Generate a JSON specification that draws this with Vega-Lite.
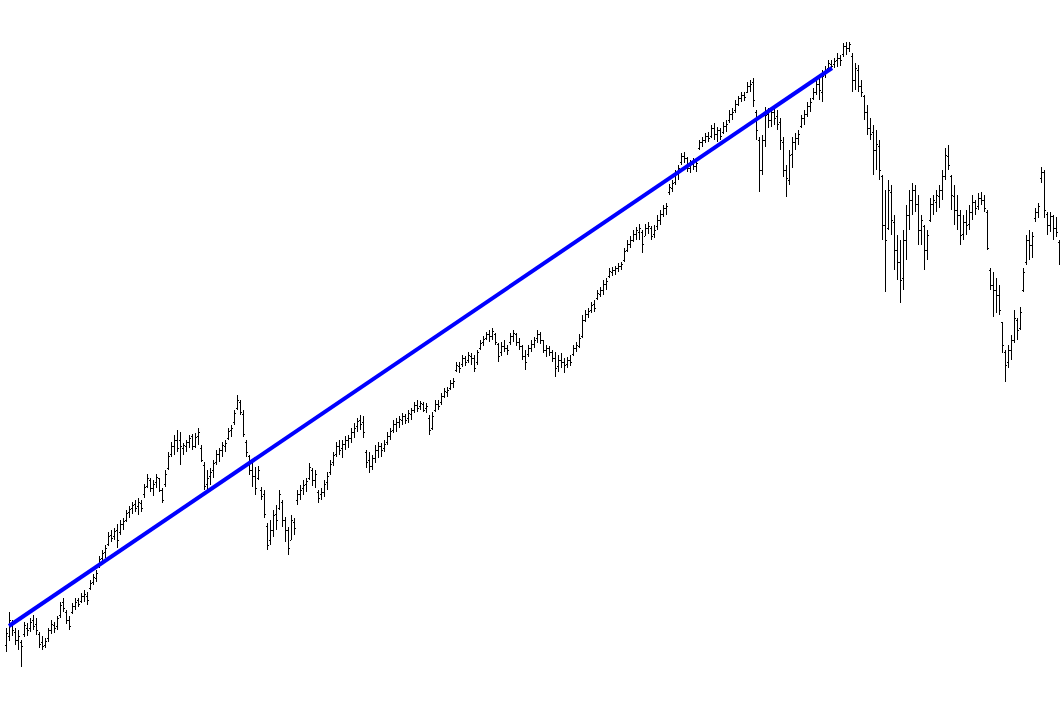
{
"$schema":"https://vega.github.io/schema/vega-lite/v6.json",
"width":1060,"height":702,"padding":0,
"autosize":{"type":"fit","contains":"padding"},
"background":"white",
"config":{"view":{"stroke":null}},
"datasets":{
"trend":[{"t":0.833,"v":374},{"t":275.17,"v":932}],
"bars":[
{"t":0,"h":372,"l":348,"o":355,"c":367},
{"t":1,"h":388,"l":359,"o":364,"c":380},
{"t":2,"h":380,"l":364,"o":376,"c":370},
{"t":3,"h":372,"l":355,"o":368,"c":360},
{"t":4,"h":370,"l":350,"o":360,"c":364},
{"t":5,"h":360,"l":333,"o":358,"c":354},
{"t":6,"h":378,"l":363,"o":366,"c":375},
{"t":7,"h":377,"l":364,"o":372,"c":370},
{"t":8,"h":382,"l":368,"o":372,"c":378},
{"t":9,"h":385,"l":370,"o":380,"c":374},
{"t":10,"h":382,"l":365,"o":376,"c":370},
{"t":11,"h":368,"l":352,"o":366,"c":356},
{"t":12,"h":364,"l":350,"o":358,"c":354},
{"t":13,"h":362,"l":352,"o":355,"c":359},
{"t":14,"h":372,"l":358,"o":362,"c":370},
{"t":15,"h":380,"l":366,"o":370,"c":376},
{"t":16,"h":378,"l":367,"o":375,"c":372},
{"t":17,"h":384,"l":370,"o":374,"c":382},
{"t":18,"h":398,"l":382,"o":385,"c":395},
{"t":19,"h":402,"l":388,"o":398,"c":392},
{"t":20,"h":390,"l":376,"o":388,"c":380},
{"t":21,"h":384,"l":370,"o":380,"c":374},
{"t":22,"h":397,"l":386,"o":388,"c":394},
{"t":23,"h":402,"l":390,"o":394,"c":398},
{"t":24,"h":402,"l":393,"o":400,"c":396},
{"t":25,"h":407,"l":397,"o":399,"c":404},
{"t":26,"h":410,"l":398,"o":404,"c":406},
{"t":27,"h":408,"l":395,"o":404,"c":400},
{"t":28,"h":420,"l":410,"o":412,"c":417},
{"t":29,"h":426,"l":415,"o":418,"c":423},
{"t":30,"h":430,"l":418,"o":422,"c":427},
{"t":31,"h":444,"l":432,"o":434,"c":441},
{"t":32,"h":450,"l":438,"o":442,"c":447},
{"t":33,"h":455,"l":442,"o":448,"c":452},
{"t":34,"h":468,"l":454,"o":456,"c":464},
{"t":35,"h":470,"l":458,"o":465,"c":462},
{"t":36,"h":472,"l":460,"o":464,"c":469},
{"t":37,"h":476,"l":452,"o":470,"c":460},
{"t":38,"h":480,"l":465,"o":468,"c":476},
{"t":39,"h":482,"l":470,"o":476,"c":479},
{"t":40,"h":490,"l":478,"o":480,"c":487},
{"t":41,"h":494,"l":482,"o":488,"c":491},
{"t":42,"h":498,"l":486,"o":492,"c":495},
{"t":43,"h":500,"l":488,"o":496,"c":492},
{"t":44,"h":502,"l":485,"o":494,"c":498},
{"t":45,"h":500,"l":488,"o":497,"c":492},
{"t":46,"h":516,"l":502,"o":506,"c":513},
{"t":47,"h":526,"l":512,"o":514,"c":522},
{"t":48,"h":522,"l":508,"o":520,"c":512},
{"t":49,"h":520,"l":504,"o":512,"c":516},
{"t":50,"h":526,"l":512,"o":518,"c":523},
{"t":51,"h":522,"l":508,"o":522,"c":510},
{"t":52,"h":512,"l":497,"o":510,"c":500},
{"t":53,"h":530,"l":513,"o":516,"c":526},
{"t":54,"h":548,"l":530,"o":532,"c":544},
{"t":55,"h":558,"l":543,"o":546,"c":554},
{"t":56,"h":565,"l":545,"o":554,"c":560},
{"t":57,"h":570,"l":548,"o":560,"c":552},
{"t":58,"h":568,"l":535,"o":560,"c":554},
{"t":59,"h":557,"l":545,"o":552,"c":555},
{"t":60,"h":560,"l":548,"o":554,"c":558},
{"t":61,"h":565,"l":552,"o":558,"c":562},
{"t":62,"h":566,"l":550,"o":564,"c":554},
{"t":63,"h":567,"l":552,"o":554,"c":563},
{"t":64,"h":572,"l":555,"o":564,"c":568},
{"t":65,"h":555,"l":538,"o":552,"c":540},
{"t":66,"h":538,"l":510,"o":535,"c":514},
{"t":67,"h":530,"l":510,"o":516,"c":522},
{"t":68,"h":532,"l":515,"o":524,"c":528},
{"t":69,"h":540,"l":522,"o":530,"c":537},
{"t":70,"h":550,"l":535,"o":538,"c":546},
{"t":71,"h":552,"l":538,"o":546,"c":550},
{"t":72,"h":558,"l":543,"o":550,"c":555},
{"t":73,"h":560,"l":548,"o":554,"c":557},
{"t":74,"h":572,"l":560,"o":562,"c":569},
{"t":75,"h":575,"l":563,"o":570,"c":572},
{"t":76,"h":590,"l":575,"o":578,"c":587},
{"t":77,"h":605,"l":590,"o":592,"c":600},
{"t":78,"h":600,"l":585,"o":598,"c":588},
{"t":79,"h":590,"l":563,"o":586,"c":566},
{"t":80,"h":560,"l":543,"o":558,"c":548},
{"t":81,"h":545,"l":525,"o":544,"c":530},
{"t":82,"h":540,"l":513,"o":530,"c":524},
{"t":83,"h":533,"l":505,"o":524,"c":512},
{"t":84,"h":534,"l":520,"o":522,"c":530},
{"t":85,"h":513,"l":500,"o":510,"c":504},
{"t":86,"h":510,"l":482,"o":506,"c":486},
{"t":87,"h":477,"l":450,"o":474,"c":455},
{"t":88,"h":480,"l":455,"o":460,"c":470},
{"t":89,"h":490,"l":463,"o":470,"c":485},
{"t":90,"h":495,"l":470,"o":486,"c":480},
{"t":91,"h":510,"l":490,"o":492,"c":506},
{"t":92,"h":500,"l":473,"o":498,"c":480},
{"t":93,"h":483,"l":458,"o":480,"c":470},
{"t":94,"h":473,"l":445,"o":470,"c":452},
{"t":95,"h":485,"l":460,"o":460,"c":480},
{"t":96,"h":482,"l":465,"o":478,"c":472},
{"t":97,"h":510,"l":495,"o":500,"c":506},
{"t":98,"h":515,"l":500,"o":506,"c":510},
{"t":99,"h":520,"l":505,"o":512,"c":515},
{"t":100,"h":522,"l":508,"o":516,"c":519},
{"t":101,"h":537,"l":520,"o":522,"c":533},
{"t":102,"h":532,"l":514,"o":530,"c":520},
{"t":103,"h":530,"l":512,"o":520,"c":526},
{"t":104,"h":510,"l":497,"o":508,"c":502},
{"t":105,"h":512,"l":500,"o":506,"c":508},
{"t":106,"h":520,"l":503,"o":508,"c":516},
{"t":107,"h":528,"l":510,"o":518,"c":524},
{"t":108,"h":540,"l":525,"o":528,"c":536},
{"t":109,"h":548,"l":534,"o":538,"c":545},
{"t":110,"h":558,"l":543,"o":546,"c":554},
{"t":111,"h":560,"l":545,"o":554,"c":550},
{"t":112,"h":560,"l":542,"o":552,"c":556},
{"t":113,"h":564,"l":550,"o":556,"c":560},
{"t":114,"h":565,"l":552,"o":560,"c":562},
{"t":115,"h":572,"l":557,"o":562,"c":568},
{"t":116,"h":577,"l":562,"o":568,"c":572},
{"t":117,"h":582,"l":568,"o":574,"c":579},
{"t":118,"h":585,"l":570,"o":580,"c":576},
{"t":119,"h":584,"l":562,"o":578,"c":568},
{"t":120,"h":550,"l":532,"o":548,"c":538},
{"t":121,"h":548,"l":527,"o":540,"c":534},
{"t":122,"h":545,"l":530,"o":534,"c":542},
{"t":123,"h":555,"l":537,"o":542,"c":550},
{"t":124,"h":558,"l":542,"o":550,"c":554},
{"t":125,"h":557,"l":543,"o":554,"c":550},
{"t":126,"h":560,"l":548,"o":552,"c":556},
{"t":127,"h":568,"l":555,"o":558,"c":564},
{"t":128,"h":572,"l":560,"o":564,"c":569},
{"t":129,"h":580,"l":567,"o":570,"c":576},
{"t":130,"h":582,"l":568,"o":576,"c":578},
{"t":131,"h":584,"l":572,"o":578,"c":581},
{"t":132,"h":587,"l":575,"o":580,"c":584},
{"t":133,"h":586,"l":576,"o":584,"c":580},
{"t":134,"h":590,"l":577,"o":582,"c":587},
{"t":135,"h":592,"l":580,"o":586,"c":590},
{"t":136,"h":598,"l":587,"o":590,"c":595},
{"t":137,"h":600,"l":588,"o":595,"c":592},
{"t":138,"h":599,"l":590,"o":594,"c":597},
{"t":139,"h":598,"l":588,"o":596,"c":590},
{"t":140,"h":597,"l":587,"o":592,"c":594},
{"t":141,"h":585,"l":565,"o":582,"c":570},
{"t":142,"h":588,"l":570,"o":572,"c":584},
{"t":143,"h":600,"l":588,"o":590,"c":596},
{"t":144,"h":600,"l":590,"o":596,"c":594},
{"t":145,"h":607,"l":595,"o":598,"c":604},
{"t":146,"h":612,"l":602,"o":604,"c":609},
{"t":147,"h":613,"l":603,"o":608,"c":610},
{"t":148,"h":620,"l":610,"o":612,"c":617},
{"t":149,"h":622,"l":612,"o":617,"c":619},
{"t":150,"h":638,"l":628,"o":630,"c":635},
{"t":151,"h":638,"l":627,"o":634,"c":632},
{"t":152,"h":645,"l":633,"o":636,"c":642},
{"t":153,"h":644,"l":634,"o":642,"c":638},
{"t":154,"h":648,"l":637,"o":640,"c":645},
{"t":155,"h":647,"l":635,"o":644,"c":642},
{"t":156,"h":645,"l":628,"o":642,"c":632},
{"t":157,"h":650,"l":635,"o":638,"c":648},
{"t":158,"h":660,"l":650,"o":652,"c":657},
{"t":159,"h":664,"l":654,"o":658,"c":661},
{"t":160,"h":668,"l":660,"o":662,"c":666},
{"t":161,"h":670,"l":658,"o":666,"c":664},
{"t":162,"h":672,"l":660,"o":664,"c":669},
{"t":163,"h":667,"l":655,"o":666,"c":658},
{"t":164,"h":657,"l":638,"o":656,"c":644},
{"t":165,"h":658,"l":644,"o":648,"c":654},
{"t":166,"h":660,"l":648,"o":654,"c":652},
{"t":167,"h":655,"l":645,"o":652,"c":650},
{"t":168,"h":667,"l":655,"o":658,"c":664},
{"t":169,"h":670,"l":658,"o":664,"c":667},
{"t":170,"h":667,"l":654,"o":666,"c":658},
{"t":171,"h":662,"l":650,"o":658,"c":654},
{"t":172,"h":655,"l":640,"o":654,"c":644},
{"t":173,"h":650,"l":630,"o":644,"c":638},
{"t":174,"h":655,"l":643,"o":646,"c":652},
{"t":175,"h":660,"l":648,"o":652,"c":656},
{"t":176,"h":663,"l":652,"o":656,"c":660},
{"t":177,"h":670,"l":657,"o":662,"c":666},
{"t":178,"h":668,"l":656,"o":666,"c":660},
{"t":179,"h":660,"l":647,"o":660,"c":650},
{"t":180,"h":655,"l":643,"o":650,"c":652},
{"t":181,"h":654,"l":644,"o":652,"c":648},
{"t":182,"h":650,"l":638,"o":648,"c":642},
{"t":183,"h":648,"l":623,"o":642,"c":632},
{"t":184,"h":645,"l":628,"o":634,"c":640},
{"t":185,"h":647,"l":632,"o":640,"c":638},
{"t":186,"h":642,"l":627,"o":638,"c":635},
{"t":187,"h":643,"l":632,"o":636,"c":640},
{"t":188,"h":645,"l":634,"o":640,"c":638},
{"t":189,"h":655,"l":644,"o":646,"c":652},
{"t":190,"h":658,"l":648,"o":652,"c":655},
{"t":191,"h":666,"l":652,"o":654,"c":662},
{"t":192,"h":685,"l":662,"o":664,"c":680},
{"t":193,"h":690,"l":678,"o":680,"c":686},
{"t":194,"h":692,"l":682,"o":686,"c":689},
{"t":195,"h":698,"l":687,"o":690,"c":695},
{"t":196,"h":700,"l":688,"o":696,"c":692},
{"t":197,"h":710,"l":700,"o":702,"c":707},
{"t":198,"h":713,"l":703,"o":706,"c":710},
{"t":199,"h":720,"l":705,"o":710,"c":716},
{"t":200,"h":722,"l":710,"o":716,"c":719},
{"t":201,"h":732,"l":722,"o":724,"c":729},
{"t":202,"h":733,"l":724,"o":728,"c":730},
{"t":203,"h":734,"l":725,"o":730,"c":732},
{"t":204,"h":737,"l":728,"o":732,"c":734},
{"t":205,"h":738,"l":730,"o":734,"c":736},
{"t":206,"h":752,"l":738,"o":740,"c":749},
{"t":207,"h":760,"l":748,"o":750,"c":756},
{"t":208,"h":764,"l":752,"o":756,"c":760},
{"t":209,"h":770,"l":758,"o":760,"c":766},
{"t":210,"h":773,"l":760,"o":766,"c":770},
{"t":211,"h":776,"l":760,"o":768,"c":772},
{"t":212,"h":770,"l":747,"o":768,"c":756},
{"t":213,"h":776,"l":764,"o":764,"c":772},
{"t":214,"h":778,"l":766,"o":772,"c":774},
{"t":215,"h":774,"l":760,"o":772,"c":764},
{"t":216,"h":775,"l":762,"o":766,"c":770},
{"t":217,"h":785,"l":770,"o":774,"c":780},
{"t":218,"h":790,"l":775,"o":780,"c":786},
{"t":219,"h":795,"l":783,"o":786,"c":792},
{"t":220,"h":797,"l":785,"o":792,"c":794},
{"t":221,"h":816,"l":805,"o":808,"c":813},
{"t":222,"h":820,"l":808,"o":812,"c":817},
{"t":223,"h":830,"l":815,"o":818,"c":826},
{"t":224,"h":835,"l":820,"o":826,"c":832},
{"t":225,"h":847,"l":835,"o":838,"c":844},
{"t":226,"h":848,"l":837,"o":844,"c":842},
{"t":227,"h":843,"l":828,"o":842,"c":832},
{"t":228,"h":840,"l":827,"o":832,"c":838},
{"t":229,"h":842,"l":830,"o":836,"c":834},
{"t":230,"h":840,"l":828,"o":834,"c":837},
{"t":231,"h":860,"l":850,"o":852,"c":858},
{"t":232,"h":863,"l":853,"o":858,"c":860},
{"t":233,"h":867,"l":857,"o":860,"c":864},
{"t":234,"h":868,"l":858,"o":864,"c":862},
{"t":235,"h":875,"l":862,"o":864,"c":872},
{"t":236,"h":877,"l":860,"o":872,"c":866},
{"t":237,"h":873,"l":858,"o":866,"c":870},
{"t":238,"h":872,"l":860,"o":870,"c":864},
{"t":239,"h":878,"l":866,"o":868,"c":874},
{"t":240,"h":880,"l":868,"o":874,"c":876},
{"t":241,"h":890,"l":877,"o":880,"c":886},
{"t":242,"h":892,"l":880,"o":886,"c":888},
{"t":243,"h":900,"l":887,"o":890,"c":896},
{"t":244,"h":904,"l":894,"o":896,"c":902},
{"t":245,"h":908,"l":898,"o":902,"c":905},
{"t":246,"h":908,"l":899,"o":905,"c":903},
{"t":247,"h":918,"l":907,"o":908,"c":914},
{"t":248,"h":920,"l":908,"o":914,"c":916},
{"t":249,"h":922,"l":893,"o":918,"c":900},
{"t":250,"h":890,"l":860,"o":888,"c":870},
{"t":251,"h":863,"l":808,"o":860,"c":830},
{"t":252,"h":865,"l":825,"o":830,"c":860},
{"t":253,"h":893,"l":853,"o":860,"c":885},
{"t":254,"h":892,"l":872,"o":886,"c":880},
{"t":255,"h":893,"l":873,"o":880,"c":888},
{"t":256,"h":893,"l":875,"o":888,"c":882},
{"t":257,"h":890,"l":870,"o":884,"c":876},
{"t":258,"h":882,"l":850,"o":878,"c":860},
{"t":259,"h":863,"l":823,"o":858,"c":830},
{"t":260,"h":835,"l":803,"o":830,"c":822},
{"t":261,"h":850,"l":815,"o":820,"c":845},
{"t":262,"h":863,"l":832,"o":846,"c":858},
{"t":263,"h":867,"l":850,"o":858,"c":862},
{"t":264,"h":870,"l":855,"o":862,"c":866},
{"t":265,"h":885,"l":872,"o":874,"c":882},
{"t":266,"h":890,"l":875,"o":882,"c":886},
{"t":267,"h":898,"l":883,"o":886,"c":894},
{"t":268,"h":902,"l":888,"o":894,"c":898},
{"t":269,"h":912,"l":900,"o":902,"c":908},
{"t":270,"h":920,"l":905,"o":908,"c":916},
{"t":271,"h":925,"l":900,"o":916,"c":910},
{"t":272,"h":930,"l":898,"o":908,"c":924},
{"t":273,"h":934,"l":922,"o":926,"c":930},
{"t":274,"h":940,"l":930,"o":932,"c":937},
{"t":275,"h":940,"l":930,"o":936,"c":934},
{"t":276,"h":942,"l":932,"o":936,"c":939},
{"t":277,"h":947,"l":933,"o":940,"c":942},
{"t":278,"h":945,"l":934,"o":942,"c":940},
{"t":279,"h":957,"l":943,"o":946,"c":954},
{"t":280,"h":958,"l":945,"o":954,"c":952},
{"t":281,"h":958,"l":948,"o":952,"c":956},
{"t":282,"h":947,"l":908,"o":944,"c":920},
{"t":283,"h":937,"l":910,"o":920,"c":932},
{"t":284,"h":935,"l":908,"o":930,"c":914},
{"t":285,"h":920,"l":903,"o":914,"c":908},
{"t":286,"h":905,"l":880,"o":904,"c":888},
{"t":287,"h":895,"l":865,"o":888,"c":872},
{"t":288,"h":882,"l":860,"o":872,"c":866},
{"t":289,"h":875,"l":825,"o":868,"c":850},
{"t":290,"h":870,"l":830,"o":850,"c":856},
{"t":291,"h":860,"l":820,"o":854,"c":830},
{"t":292,"h":825,"l":760,"o":824,"c":775},
{"t":293,"h":810,"l":708,"o":775,"c":760},
{"t":294,"h":820,"l":770,"o":772,"c":810},
{"t":295,"h":815,"l":765,"o":808,"c":780},
{"t":296,"h":785,"l":730,"o":778,"c":750},
{"t":297,"h":765,"l":720,"o":750,"c":738},
{"t":298,"h":760,"l":697,"o":738,"c":720},
{"t":299,"h":770,"l":710,"o":722,"c":760},
{"t":300,"h":795,"l":740,"o":760,"c":785},
{"t":301,"h":810,"l":770,"o":785,"c":800},
{"t":302,"h":817,"l":785,"o":800,"c":810},
{"t":303,"h":815,"l":788,"o":810,"c":796},
{"t":304,"h":805,"l":755,"o":796,"c":770},
{"t":305,"h":785,"l":755,"o":770,"c":780},
{"t":306,"h":775,"l":730,"o":774,"c":750},
{"t":307,"h":770,"l":740,"o":750,"c":765},
{"t":308,"h":802,"l":778,"o":780,"c":796},
{"t":309,"h":805,"l":785,"o":796,"c":800},
{"t":310,"h":810,"l":788,"o":798,"c":805},
{"t":311,"h":815,"l":792,"o":804,"c":810},
{"t":312,"h":830,"l":800,"o":810,"c":824},
{"t":313,"h":852,"l":820,"o":824,"c":845},
{"t":314,"h":855,"l":830,"o":844,"c":835},
{"t":315,"h":825,"l":790,"o":824,"c":805},
{"t":316,"h":815,"l":775,"o":804,"c":790},
{"t":317,"h":805,"l":770,"o":790,"c":785},
{"t":318,"h":790,"l":755,"o":785,"c":765},
{"t":319,"h":785,"l":760,"o":766,"c":778},
{"t":320,"h":790,"l":765,"o":778,"c":775},
{"t":321,"h":795,"l":770,"o":776,"c":788},
{"t":322,"h":805,"l":780,"o":788,"c":798},
{"t":323,"h":800,"l":785,"o":798,"c":792},
{"t":324,"h":807,"l":790,"o":794,"c":802},
{"t":325,"h":808,"l":795,"o":802,"c":800},
{"t":326,"h":805,"l":788,"o":800,"c":792},
{"t":327,"h":790,"l":750,"o":788,"c":752},
{"t":328,"h":732,"l":710,"o":730,"c":715},
{"t":329,"h":728,"l":683,"o":715,"c":710},
{"t":330,"h":722,"l":687,"o":710,"c":705},
{"t":331,"h":715,"l":685,"o":705,"c":690},
{"t":332,"h":678,"l":647,"o":678,"c":655},
{"t":333,"h":650,"l":618,"o":648,"c":635},
{"t":334,"h":655,"l":632,"o":638,"c":650},
{"t":335,"h":665,"l":640,"o":650,"c":660},
{"t":336,"h":690,"l":657,"o":660,"c":682},
{"t":337,"h":682,"l":660,"o":680,"c":670},
{"t":338,"h":693,"l":670,"o":672,"c":688},
{"t":339,"h":732,"l":708,"o":710,"c":728},
{"t":340,"h":765,"l":735,"o":738,"c":760},
{"t":341,"h":770,"l":740,"o":760,"c":755},
{"t":342,"h":768,"l":742,"o":755,"c":764},
{"t":343,"h":792,"l":778,"o":782,"c":788},
{"t":344,"h":797,"l":782,"o":788,"c":794},
{"t":345,"h":833,"l":817,"o":822,"c":828},
{"t":346,"h":830,"l":782,"o":828,"c":790},
{"t":347,"h":788,"l":765,"o":786,"c":775},
{"t":348,"h":788,"l":768,"o":775,"c":784},
{"t":349,"h":785,"l":760,"o":784,"c":772},
{"t":350,"h":783,"l":763,"o":772,"c":768},
{"t":351,"h":760,"l":735,"o":758,"c":745},
{"t":352,"h":760,"l":738,"o":746,"c":752}
]},
"layer":[
{"data":{"name":"bars"},
 "mark":{"type":"rule","color":"black","strokeWidth":1},
 "encoding":{
  "x":{"field":"t","type":"quantitative","scale":{"domain":[0,352],"range":[2.5,1058.5],"nice":false,"zero":false},"axis":null},
  "y":{"field":"l","type":"quantitative","scale":{"domain":[298,1000],"nice":false,"zero":false},"axis":null},
  "y2":{"field":"h"}}},
{"data":{"name":"bars"},
 "mark":{"type":"tick","orient":"horizontal","size":1,"thickness":1,"xOffset":-1,"yOffset":0.5,"color":"black","opacity":1},
 "encoding":{
  "x":{"field":"t","type":"quantitative"},
  "y":{"field":"o","type":"quantitative"}}},
{"data":{"name":"bars"},
 "mark":{"type":"tick","orient":"horizontal","size":1,"thickness":1,"xOffset":1,"yOffset":0.5,"color":"black","opacity":1},
 "encoding":{
  "x":{"field":"t","type":"quantitative"},
  "y":{"field":"c","type":"quantitative"}}},
{"data":{"name":"trend"},
 "mark":{"type":"line","color":"#0000ff","strokeWidth":4},
 "encoding":{
  "x":{"field":"t","type":"quantitative"},
  "y":{"field":"v","type":"quantitative"}}}
]
}
